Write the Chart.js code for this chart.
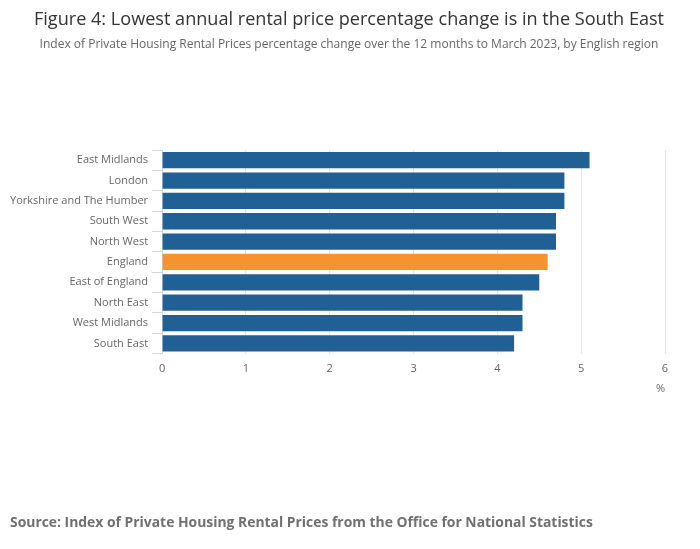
<!DOCTYPE html>
<html>
<head>
<meta charset="utf-8">
<script src="https://cdn.jsdelivr.net/npm/chart.js@4"></script>
<style>
  html, body { margin: 0; padding: 0; background: #fff; }
  #wrap { width: 700px; height: 549px; }
</style>
</head>
<body>
<div id="wrap"><canvas id="rentChart"></canvas></div>
<script>
// regions, sorted by annual change
const regions = ['East Midlands', 'London', 'Yorkshire and The Humber', 'South West', 'North West',
                 'England', 'East of England', 'North East', 'West Midlands', 'South East'];
const changePct = [5.1, 4.8, 4.8, 4.7, 4.7, 4.6, 4.5, 4.3, 4.3, 4.2];
const xTicks = [0, 1, 2, 3, 4, 5, 6];

const barColours = regions.map(r => r === 'England' ? '#f39431' : '#206095');

const titleText = 'Figure 4: Lowest annual rental price percentage change is in the South East';
const subtitleText = 'Index of Private Housing Rental Prices percentage change over the 12 months to March 2023, by English region';
const sourceText = 'Source: Index of Private Housing Rental Prices from the Office for National Statistics';

// header and source drawn straight on the canvas so they centre on the full width
const headerAndSource = {
  id: 'headerAndSource',
  afterDraw(chart) {
    const ctx = chart.ctx;
    const mid = chart.width / 2 - 1;
    ctx.save();
    ctx.textBaseline = 'alphabetic';
    ctx.textAlign = 'center';
    ctx.font = '18.1px "Open Sans"';
    ctx.fillStyle = '#333333';
    ctx.fillText(titleText, mid, 25);
    ctx.font = '12px "Open Sans"';
    ctx.fillStyle = '#666666';
    ctx.fillText(subtitleText, mid, 48);
    ctx.textAlign = 'left';
    ctx.font = 'bold 13.9px "Open Sans"';
    ctx.fillStyle = '#707070';
    ctx.fillText(sourceText, 10, 527);
    ctx.restore();
  }
};

Chart.defaults.font.family = '"Open Sans", sans-serif';
Chart.defaults.animation = false;

new Chart(document.getElementById('rentChart'), {
  type: 'bar',
  data: {
    labels: regions,
    datasets: [{
      label: 'Annual change (%)',
      data: changePct,
      backgroundColor: barColours,
      barPercentage: 0.8,
      categoryPercentage: 1.0
    }]
  },
  options: {
    indexAxis: 'y',
    responsive: true,
    maintainAspectRatio: false,
    layout: { padding: { left: 6, right: 35, top: 150, bottom: 154 } },
    plugins: {
      legend: { display: false },
      tooltip: { enabled: false }
    },
    scales: {
      x: {
        min: 0,
        max: 6,
        afterBuildTicks(scale) { scale.ticks = xTicks.map(v => ({ value: v })); },
        grid: { color: '#e6e6e6', drawTicks: false },
        border: { display: false },
        ticks: { color: '#666666', font: { size: 11 }, padding: 9 },
        title: {
          display: true,
          text: '%',
          align: 'end',
          color: '#666666',
          font: { size: 11 },
          padding: { top: -3, bottom: 0 }
        }
      },
      y: {
        grid: {
          offset: true,
          drawOnChartArea: false,
          drawTicks: true,
          tickLength: 10,
          color: '#ccd6eb'
        },
        border: { display: true, color: '#ccd6eb' },
        ticks: { color: '#666666', font: { size: 11 }, padding: 4 }
      }
    }
  },
  plugins: [headerAndSource]
});
</script>
</body>
</html>
